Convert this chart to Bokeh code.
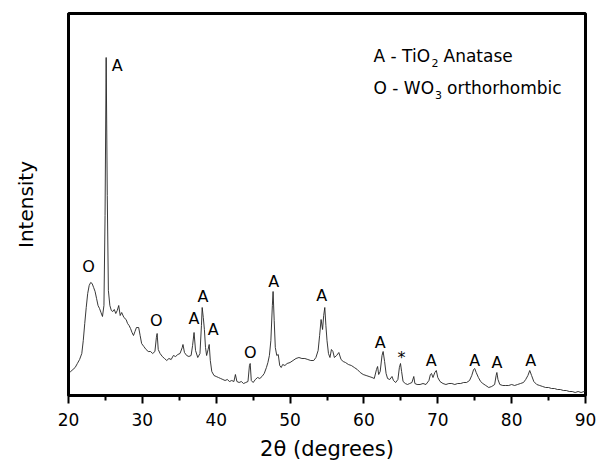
from bokeh.plotting import figure
from bokeh.models import Range1d, FixedTicker, ColumnDataSource
from bokeh.core.properties import value
from bokeh.embed import file_html
from bokeh.resources import INLINE

two_theta = [20.0, 20.3, 20.6, 20.9, 21.2, 21.5, 21.8, 22.0, 22.2, 22.4, 22.6, 22.8, 23.0, 23.2, 23.4, 23.6, 23.8, 24.0, 24.2, 24.4, 24.6, 24.8, 24.95, 25.1, 25.25, 25.4, 25.6, 25.8, 26.0, 26.2, 26.4, 26.6, 26.8, 27.0, 27.2, 27.5, 27.8, 28.0, 28.2, 28.4, 28.6, 28.8, 29.0, 29.2, 29.5, 29.7, 29.9, 30.2, 30.5, 30.8, 31.1, 31.4, 31.7, 31.9, 32.0, 32.15, 32.4, 32.7, 33.0, 33.3, 33.6, 33.9, 34.2, 34.5, 34.8, 35.1, 35.4, 35.5, 35.7, 36.0, 36.3, 36.6, 36.8, 37.0, 37.2, 37.5, 37.8, 38.0, 38.1, 38.25, 38.4, 38.55, 38.7, 38.9, 39.05, 39.2, 39.4, 39.7, 40.0, 40.3, 40.6, 40.9, 41.2, 41.5, 41.8, 42.1, 42.4, 42.6, 42.8, 43.1, 43.4, 43.7, 44.0, 44.3, 44.5, 44.6, 44.75, 45.0, 45.3, 45.6, 45.9, 46.2, 46.5, 46.8, 47.0, 47.2, 47.4, 47.6, 47.7, 47.85, 48.0, 48.2, 48.4, 48.6, 48.8, 49.0, 49.3, 49.6, 50.0, 50.4, 50.8, 51.2, 51.6, 52.0, 52.4, 52.8, 53.2, 53.5, 53.8, 54.0, 54.2, 54.4, 54.55, 54.7, 54.85, 55.0, 55.2, 55.4, 55.6, 55.8, 56.0, 56.3, 56.6, 56.9, 57.2, 57.5, 57.9, 58.3, 58.7, 59.1, 59.5, 59.9, 60.3, 60.7, 61.1, 61.4, 61.7, 61.85, 62.0, 62.2, 62.45, 62.6, 62.8, 63.0, 63.2, 63.5, 63.8, 64.0, 64.3, 64.6, 64.8, 64.95, 65.1, 65.3, 65.6, 65.9, 66.2, 66.5, 66.75, 66.9, 67.2, 67.6, 68.0, 68.4, 68.8, 69.0, 69.15, 69.35, 69.6, 69.8, 70.0, 70.3, 70.7, 71.1, 71.5, 71.9, 72.3, 72.7, 73.1, 73.5, 73.9, 74.3, 74.6, 74.85, 75.0, 75.2, 75.5, 75.8, 76.1, 76.5, 76.9, 77.3, 77.7, 77.9, 78.0, 78.15, 78.4, 78.8, 79.2, 79.6, 80.0, 80.4, 80.8, 81.2, 81.6, 81.9, 82.2, 82.45, 82.7, 83.0, 83.4, 83.8, 84.2, 84.6, 85.0, 85.4, 85.8, 86.2, 86.6, 87.0, 87.4, 87.8, 88.2, 88.6, 89.0, 89.4, 89.8, 90.0]
intensity = [22, 24, 26, 28, 32, 36, 42, 55, 72, 88, 102, 110, 113, 112, 108, 104, 97, 90, 87, 83, 79, 90, 180, 338, 200, 105, 90, 85, 84, 86, 82, 85, 90, 80, 83, 78, 76, 72, 70, 67, 63, 60, 64, 68, 68, 60, 52, 49, 46, 44, 44, 42, 44, 58, 62, 46, 42, 39, 37, 35, 37, 36, 40, 39, 41, 42, 48, 51, 43, 40, 39, 40, 50, 63, 45, 38, 42, 70, 88, 78, 66, 48, 40, 46, 51, 35, 24, 20, 19, 18, 17, 16, 15, 16, 14, 15, 14, 21, 14, 13, 14, 12, 13, 14, 30, 32, 15, 13, 16, 18, 17, 19, 22, 28, 33, 40, 55, 90, 104, 75, 48, 40, 41, 30, 28, 31, 30, 32, 33, 35, 37, 38, 37, 37, 36, 35, 35, 38, 45, 60, 76, 66, 80, 88, 70, 55, 42, 38, 46, 44, 38, 40, 43, 36, 34, 33, 31, 30, 28, 26, 23, 21, 20, 19, 18, 17, 26, 29, 21, 24, 40, 44, 34, 22, 17, 16, 19, 15, 13, 16, 28, 32, 24, 14, 12, 11, 12, 13, 19, 12, 11, 11, 12, 11, 15, 21, 22, 18, 23, 25, 18, 14, 12, 11, 12, 12, 11, 12, 12, 13, 13, 15, 20, 26, 27, 23, 18, 14, 12, 10, 8, 9, 11, 20, 23, 16, 11, 10, 10, 10, 11, 10, 11, 12, 13, 16, 20, 25, 20, 14, 11, 10, 9, 8, 8, 7, 7, 6, 6, 5, 5, 4, 4, 3, 4, 3, 4, 4]

label_x = [26.6, 22.7, 31.9, 37.0, 38.2, 39.6, 44.6, 47.8, 54.3, 62.2, 65.1, 69.1, 75.0, 78.0, 82.6]
label_y = [330, 129, 75, 77, 99, 66, 43, 114, 100, 53, 38, 35, 35, 33, 35]
label_text = ["A", "O", "O", "A", "A", "A", "O", "A", "A", "A", "*", "A", "A", "A", "A"]

legend_x = [61.3, 61.3]
legend_y = [340, 308]
legend_head = ["A - TiO", "O - WO"]
legend_sub = ["2", "3"]
legend_tail = ["Anatase", "orthorhombic"]

x_ticks = [20, 30, 40, 50, 60, 70, 80, 90]
x_minor = [25, 35, 45, 55, 65, 75, 85]

FONT = "DejaVu Sans"

p = figure(width=596, height=466, output_backend="svg", toolbar_location=None,
           x_range=Range1d(20, 90), y_range=Range1d(0, 382),
           min_border_left=68, min_border_right=11, min_border_top=13, min_border_bottom=71)
p.grid.visible = False
p.background_fill_color = "white"
p.border_fill_color = "white"
p.outline_line_color = "black"
p.outline_line_width = 3

p.line(two_theta, intensity, line_color="#222222", line_width=0.9)

src = ColumnDataSource(dict(x=label_x, y=label_y, t=label_text))
p.text(x="x", y="y", text="t", source=src, text_font=value(FONT), text_font_size="16px",
       text_align="center", text_baseline="middle", text_color="black")

# legend text with real subscripts (three pieces per line)
head_w = [57.0, 60.5]
sub_off = [w + 1 for w in head_w]
tail_off = [w + 13 for w in head_w]
p.text(x=legend_x, y=legend_y, text=legend_head, text_font=value(FONT), text_font_size="17px",
       text_align="left", text_baseline="middle", text_color="black")
p.text(x=legend_x, y=legend_y, text=legend_sub, x_offset=sub_off, y_offset=7,
       text_font=value(FONT), text_font_size="11px",
       text_align="left", text_baseline="middle", text_color="black")
p.text(x=legend_x, y=legend_y, text=legend_tail, x_offset=tail_off,
       text_font=value(FONT), text_font_size="17px",
       text_align="left", text_baseline="middle", text_color="black")

xa = p.xaxis[0]
xa.ticker = FixedTicker(ticks=x_ticks, minor_ticks=x_minor)
xa.axis_line_width = 3
xa.axis_line_color = "black"
xa.major_tick_line_width = 2
xa.minor_tick_line_width = 2
xa.major_tick_line_color = "black"
xa.minor_tick_line_color = "black"
xa.major_tick_out = 8
xa.major_tick_in = 0
xa.minor_tick_out = 5
xa.minor_tick_in = 0
xa.major_label_text_font = FONT
xa.major_label_text_font_size = "17px"
xa.major_label_text_color = "black"
xa.major_label_standoff = 9
xa.axis_label = "2\u03b8 (degrees)"
xa.axis_label_text_font = FONT
xa.axis_label_text_font_size = "21px"
xa.axis_label_text_font_style = "normal"
xa.axis_label_text_color = "black"
xa.axis_label_standoff = 8

ya = p.yaxis[0]
ya.ticker = FixedTicker(ticks=[])
ya.axis_line_width = 3
ya.axis_line_color = "black"
ya.major_tick_line_color = None
ya.minor_tick_line_color = None
ya.major_label_standoff = 0
ya.axis_label = "Intensity"
ya.axis_label_text_font = FONT
ya.axis_label_text_font_size = "20px"
ya.axis_label_text_font_style = "normal"
ya.axis_label_text_color = "black"
ya.axis_label_standoff = 31

open("out.html", "w").write(file_html(p, INLINE))
